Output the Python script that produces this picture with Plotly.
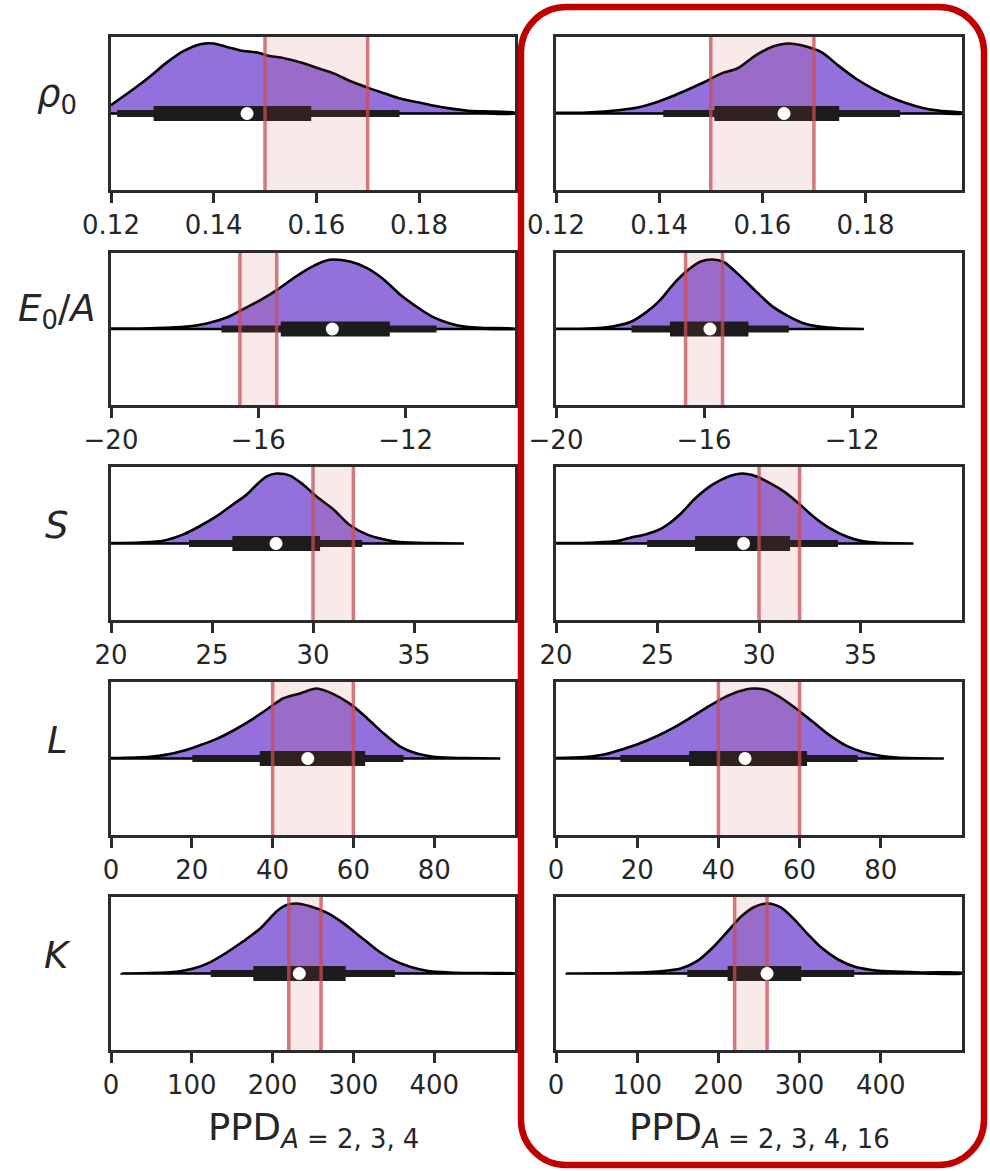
import plotly.graph_objects as go

W, H = 990, 1171

# ---------------- data ----------------
row_labels = ["<i>ρ</i><sub>0</sub>", "<i>E</i><sub>0</sub>/<i>A</i>", "<i>S</i>", "<i>L</i>", "<i>K</i>"]
col_titles = ["PPD<sub><i>A</i> = 2, 3, 4</sub>", "PPD<sub><i>A</i> = 2, 3, 4, 16</sub>"]

x_ranges = [[0.12, 0.1987], [-20, -9.03], [20, 40], [0, 100], [0, 500]]
tick_vals = [[0.12, 0.14, 0.16, 0.18], [-20, -16, -12], [20, 25, 30, 35],
             [0, 20, 40, 60, 80], [0, 100, 200, 300, 400]]
tick_text = [["0.12", "0.14", "0.16", "0.18"], ["−20", "−16", "−12"], ["20", "25", "30", "35"],
             ["0", "20", "40", "60", "80"], ["0", "100", "200", "300", "400"]]
ref_bands = [[0.15, 0.17], [-16.5, -15.5], [30, 32], [40, 60], [220, 260]]

# violin outlines: x positions and relative density (peak = 1)
rho_A4_x = [0.1200, 0.1244, 0.1276, 0.1309, 0.1341, 0.1374, 0.1400, 0.1426, 0.1452, 0.1485, 0.1504,
            0.1537, 0.1570, 0.1602, 0.1635, 0.1667, 0.1700, 0.1732, 0.1765, 0.1798, 0.1830, 0.1863,
            0.1895, 0.1928, 0.1987]
rho_A4_d = [0.12, 0.35, 0.53, 0.73, 0.89, 0.99, 1.00, 0.95, 0.90, 0.87, 0.83, 0.79, 0.73, 0.65, 0.57,
            0.46, 0.37, 0.29, 0.21, 0.16, 0.11, 0.07, 0.04, 0.03, 0.01]
rho_A4_box = [0.1212, 0.1283, 0.1465, 0.1590, 0.1762]

rho_A16_x = [0.1200, 0.1260, 0.1325, 0.1358, 0.1390, 0.1423, 0.1455, 0.1488, 0.1520, 0.1553, 0.1585,
             0.1618, 0.1651, 0.1683, 0.1716, 0.1748, 0.1781, 0.1813, 0.1846, 0.1878, 0.1911, 0.1944,
             0.1989]
rho_A16_d = [0.01, 0.015, 0.05, 0.085, 0.15, 0.24, 0.34, 0.45, 0.57, 0.65, 0.82, 0.95, 1.00, 0.96,
             0.87, 0.68, 0.50, 0.36, 0.24, 0.15, 0.08, 0.04, 0.01]
rho_A16_box = [0.1408, 0.1507, 0.1642, 0.1749, 0.1867]

E_A4_x = [-20.00, -18.94, -18.04, -17.40, -16.86, -16.50, -15.96, -15.50, -15.05, -14.60, -14.15,
          -13.97, -13.51, -13.06, -12.61, -12.16, -11.70, -11.25, -10.80, -10.35, -9.90, -9.03]
E_A4_d = [0.005, 0.01, 0.03, 0.08, 0.165, 0.26, 0.41, 0.56, 0.73, 0.88, 0.985, 1.00, 0.97, 0.88,
          0.72, 0.50, 0.32, 0.17, 0.08, 0.03, 0.015, 0.005]
E_A4_box = [-17.00, -15.39, -13.99, -12.43, -11.16]

E_A16_x = [-20.00, -19.17, -18.44, -17.99, -17.54, -17.18, -16.82, -16.45, -16.09, -15.77, -15.46,
           -15.10, -14.65, -14.19, -13.74, -13.29, -12.84, -12.38, -11.68]
E_A16_d = [0.003, 0.005, 0.04, 0.10, 0.25, 0.42, 0.65, 0.84, 0.97, 1.00, 0.96, 0.80, 0.57, 0.34,
           0.19, 0.08, 0.03, 0.01, 0.0]
E_A16_box = [-17.96, -16.92, -15.84, -14.80, -13.71]

S_A4_x = [20.00, 21.44, 22.59, 23.58, 24.41, 25.23, 26.05, 26.72, 27.21, 27.71, 28.20, 28.86, 29.52,
          30.18, 31.00, 31.83, 32.66, 33.48, 34.31, 35.95, 37.47]
S_A4_d = [0.005, 0.015, 0.04, 0.13, 0.25, 0.39, 0.56, 0.70, 0.84, 0.96, 1.00, 0.97, 0.84, 0.67,
          0.49, 0.26, 0.13, 0.06, 0.02, 0.005, 0.0]
S_A4_box = [23.86, 26.01, 28.17, 30.35, 32.44]

S_A16_x = [20.00, 21.93, 23.08, 23.75, 24.41, 25.23, 26.05, 26.88, 27.71, 28.53, 29.19, 29.85, 30.68,
           31.34, 32.00, 32.66, 33.48, 34.31, 35.13, 35.95, 37.61]
S_A16_d = [0.005, 0.015, 0.04, 0.09, 0.13, 0.22, 0.40, 0.65, 0.84, 0.96, 1.00, 0.96, 0.84, 0.72,
           0.56, 0.39, 0.22, 0.10, 0.03, 0.01, 0.0]
S_A16_box = [24.49, 26.85, 29.24, 31.53, 33.89]

L_A4_x = [0.00, 9.66, 13.79, 17.91, 22.04, 26.17, 30.30, 34.43, 38.56, 42.68, 46.81, 50.94, 55.06,
          59.19, 63.33, 67.44, 71.58, 75.71, 79.83, 88.10, 96.35]
L_A4_d = [0.005, 0.025, 0.055, 0.11, 0.19, 0.28, 0.40, 0.54, 0.70, 0.86, 0.93, 1.00, 0.92, 0.78,
          0.58, 0.36, 0.17, 0.07, 0.025, 0.005, 0.0]
L_A4_box = [20.14, 36.82, 48.71, 62.91, 72.40]

L_A16_x = [0.00, 7.18, 12.14, 16.27, 20.39, 24.52, 28.65, 32.78, 36.90, 41.04, 45.15, 48.46, 51.76,
           55.06, 59.19, 63.33, 67.44, 71.58, 75.71, 79.83, 83.96, 95.53]
L_A16_d = [0.005, 0.02, 0.06, 0.13, 0.21, 0.31, 0.43, 0.57, 0.72, 0.86, 0.96, 1.00, 0.98, 0.88,
           0.71, 0.52, 0.33, 0.18, 0.09, 0.04, 0.015, 0.0]
L_A16_box = [15.85, 32.78, 46.56, 61.83, 74.30]

K_A4_x = [13.2, 48.3, 81.3, 101.9, 122.5, 143.2, 163.7, 184.4, 205.1, 217.4, 229.8, 246.3, 266.9,
          287.5, 308.2, 328.8, 349.4, 370.0, 390.7, 419.6, 460.8, 500.0]
K_A4_d = [0.0, 0.005, 0.025, 0.07, 0.16, 0.30, 0.46, 0.64, 0.89, 0.98, 1.00, 0.96, 0.87, 0.72,
          0.53, 0.34, 0.19, 0.095, 0.04, 0.015, 0.005, 0.002]
K_A4_box = [123.4, 176.1, 233.1, 290.4, 351.5]

K_A16_x = [13.2, 79.2, 128.7, 153.5, 174.1, 194.7, 211.3, 227.7, 244.2, 260.8, 277.2, 293.7, 310.3,
           326.7, 347.4, 368.0, 388.6, 409.3, 450.5, 500.0]
K_A16_d = [0.0, 0.005, 0.03, 0.07, 0.18, 0.39, 0.60, 0.81, 0.95, 1.00, 0.94, 0.77, 0.56, 0.37,
           0.20, 0.095, 0.05, 0.03, 0.015, 0.01]
K_A16_box = [161.7, 211.3, 259.9, 302.0, 367.2]

violins = [
    [(rho_A4_x, rho_A4_d, rho_A4_box), (rho_A16_x, rho_A16_d, rho_A16_box)],
    [(E_A4_x, E_A4_d, E_A4_box), (E_A16_x, E_A16_d, E_A16_box)],
    [(S_A4_x, S_A4_d, S_A4_box), (S_A16_x, S_A16_d, S_A16_box)],
    [(L_A4_x, L_A4_d, L_A4_box), (L_A16_x, L_A16_d, L_A16_box)],
    [(K_A4_x, K_A4_d, K_A4_box), (K_A16_x, K_A16_d, K_A16_box)],
]

# ---------------- styling / layout ----------------
VIOLIN_FILL = "#9370DB"
BOX_COLOR = "#1c1c1c"
AXIS_COLOR = "#2b2b2b"
TEXT_COLOR = "#262626"
BAND_FILL = "rgba(205,80,80,0.12)"
BAND_LINE = "rgba(200,78,86,0.75)"
FRAME_RED = "#C00000"
FONT = "DejaVu Sans"
VW = 0.915  # violin peak half-width in y units (y range is [-1, 1])
Y_RANGE = [-1, 1]

col_px = [(111, 515), (556, 962)]
row_px = [(37, 190), (253, 405), (467, 620), (682, 835), (897, 1050)]


def px_x(p):
    return p / W


def px_y(p):
    return 1 - p / H


fig = go.Figure()
layout = dict(
    width=W, height=H, autosize=False,
    margin=dict(l=0, r=0, t=0, b=0, pad=0, autoexpand=False),
    paper_bgcolor="white", plot_bgcolor="white",
    showlegend=False,
    font=dict(family=FONT, color=TEXT_COLOR),
)
shapes = []
annotations = []

for r in range(5):
    for c in range(2):
        k = r * 2 + 1 + c
        xa = "x" if k == 1 else f"x{k}"
        ya = "y" if k == 1 else f"y{k}"
        xs, ds, bx = violins[r][c]
        lo, q1, med, q3, hi = bx
        b0, b1 = ref_bands[r]

        # violin (upper half)
        poly_x = list(xs) + list(reversed(xs))
        poly_y = [VW * d for d in ds] + [0.0] * len(xs)
        fig.add_trace(go.Scatter(x=poly_x, y=poly_y, xaxis=xa, yaxis=ya, mode="lines",
                                 fill="toself", fillcolor=VIOLIN_FILL,
                                 line=dict(color="black", width=2.6, shape="spline", smoothing=0.8),
                                 hoverinfo="skip"))
        # whiskers and IQR bar
        fig.add_trace(go.Scatter(x=[lo, hi], y=[0, 0], xaxis=xa, yaxis=ya, mode="lines",
                                 line=dict(color=BOX_COLOR, width=7), hoverinfo="skip"))
        fig.add_trace(go.Scatter(x=[q1, q3], y=[0, 0], xaxis=xa, yaxis=ya, mode="lines",
                                 line=dict(color=BOX_COLOR, width=15), hoverinfo="skip"))
        # reference band and its edges
        fig.add_trace(go.Scatter(x=[b0, b1, b1, b0, b0],
                                 y=[Y_RANGE[0], Y_RANGE[0], Y_RANGE[1], Y_RANGE[1], Y_RANGE[0]],
                                 xaxis=xa, yaxis=ya, mode="lines", fill="toself",
                                 fillcolor=BAND_FILL, line=dict(width=0), hoverinfo="skip"))
        for bv in (b0, b1):
            fig.add_trace(go.Scatter(x=[bv, bv], y=Y_RANGE, xaxis=xa, yaxis=ya, mode="lines",
                                     line=dict(color=BAND_LINE, width=3.5), hoverinfo="skip"))
        # median
        fig.add_trace(go.Scatter(x=[med], y=[0], xaxis=xa, yaxis=ya, mode="markers",
                                 marker=dict(color="white", size=13, line=dict(width=0)),
                                 hoverinfo="skip"))

        x0p, x1p = col_px[c]
        y0p, y1p = row_px[r]
        layout["xaxis" if k == 1 else f"xaxis{k}"] = dict(
            domain=[px_x(x0p), px_x(x1p)], anchor=ya, range=x_ranges[r], automargin=False,
            showgrid=False, zeroline=False, showline=True, mirror=True,
            linecolor=AXIS_COLOR, linewidth=3,
            ticks="outside", ticklen=10, tickwidth=3, tickcolor=AXIS_COLOR,
            tickmode="array", tickvals=tick_vals[r], ticktext=tick_text[r],
            tickfont=dict(family=FONT, size=26, color=TEXT_COLOR),
        )
        layout["yaxis" if k == 1 else f"yaxis{k}"] = dict(
            domain=[px_y(y1p), px_y(y0p)], anchor=xa, range=Y_RANGE, automargin=False,
            showgrid=False, zeroline=False, showline=True, mirror=True,
            linecolor=AXIS_COLOR, linewidth=3, ticks="", showticklabels=False,
        )

    # row label
    mid = (row_px[r][0] + row_px[r][1]) / 2
    annotations.append(dict(text=row_labels[r], xref="paper", yref="paper",
                            x=px_x(57), y=px_y(mid - 18), xanchor="center", yanchor="middle",
                            showarrow=False, font=dict(family=FONT, size=37, color=TEXT_COLOR)))

# column titles
for c in range(2):
    cx = (col_px[c][0] + col_px[c][1]) / 2
    annotations.append(dict(text=col_titles[c], xref="paper", yref="paper",
                            x=px_x(cx), y=px_y(1130), xanchor="center", yanchor="middle",
                            showarrow=False, font=dict(family=FONT, size=37, color=TEXT_COLOR)))

# rounded red frame around the right column
fx0, fx1 = px_x(521), px_x(984)
fy0, fy1 = px_y(1165), px_y(7)
rx, ry = 45 / W, 45 / H
kk = 0.4477
path = (f"M {fx0 + rx},{fy1} L {fx1 - rx},{fy1} "
        f"C {fx1 - rx * kk},{fy1} {fx1},{fy1 - ry * kk} {fx1},{fy1 - ry} "
        f"L {fx1},{fy0 + ry} "
        f"C {fx1},{fy0 + ry * kk} {fx1 - rx * kk},{fy0} {fx1 - rx},{fy0} "
        f"L {fx0 + rx},{fy0} "
        f"C {fx0 + rx * kk},{fy0} {fx0},{fy0 + ry * kk} {fx0},{fy0 + ry} "
        f"L {fx0},{fy1 - ry} "
        f"C {fx0},{fy1 - ry * kk} {fx0 + rx * kk},{fy1} {fx0 + rx},{fy1} Z")
shapes.append(dict(type="path", xref="paper", yref="paper", path=path,
                   line=dict(color=FRAME_RED, width=6.5), fillcolor="rgba(0,0,0,0)", layer="above"))

layout["shapes"] = shapes
layout["annotations"] = annotations
fig.update_layout(**layout)

fig.write_html("out.html")
